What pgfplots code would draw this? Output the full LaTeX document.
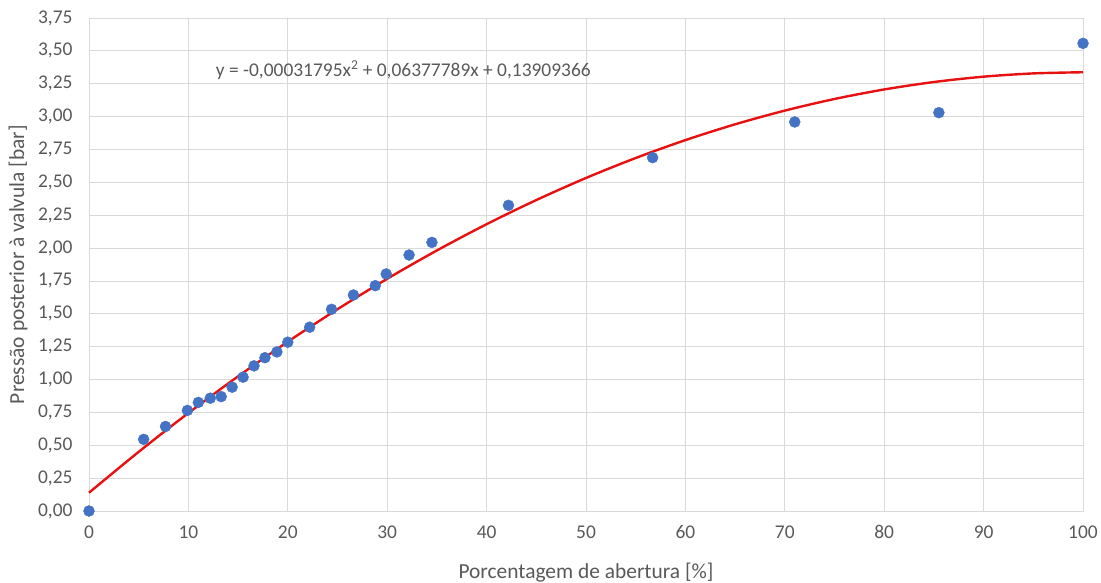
\documentclass[border=0pt]{standalone}
\usepackage{fontspec}
\setmainfont{Carlito}
\usepackage{pgfplots}
\pgfplotsset{compat=1.18}
\definecolor{txtgrey}{HTML}{595959}
\definecolor{gridgrey}{HTML}{D9D9D9}
\definecolor{axisgrey}{HTML}{BFBFBF}
\definecolor{ptblue}{HTML}{4472C4}
\definecolor{fitred}{HTML}{E81010}
\begin{document}
\begin{tikzpicture}[x=1bp,y=1bp]
\begin{axis}[
  at={(0bp,0bp)}, anchor=south west,
  scale only axis, width=994bp, height=493bp,
  xmin=0, xmax=100, ymin=0, ymax=3.75,
  xtick={0,10,...,100},
  ytick={0,0.25,...,3.75},
  grid=major,
  major grid style={gridgrey, line width=0.8bp},
  axis line style={gridgrey, line width=0.8bp},
  tick style={draw=none},
  every tick label/.append style={text=txtgrey, font=\fontsize{19.5}{23}\selectfont},
  /pgf/number format/assume math mode=true,
  yticklabel style={/pgf/number format/.cd, fixed, fixed zerofill, precision=2, use comma},
  xticklabel style={/pgf/number format/.cd, fixed, precision=0},
  xticklabel shift=11bp,
  yticklabel shift=13bp,
  clip=false,
]
\addplot[fitred, line width=2.4bp, smooth] coordinates {
(0,0.13909) (5,0.45003) (10,0.74508) (15,1.02422) (20,1.28747) (25,1.53482)
(30,1.76628) (35,1.98183) (40,2.18149) (45,2.36525) (50,2.53311) (55,2.68507)
(60,2.82114) (65,2.94132) (70,3.04559) (75,3.13397) (80,3.20644) (85,3.26303)
(90,3.30371) (95,3.32849) (100,3.33738)};
\addplot[only marks, mark=*, mark size=5.5bp, mark options={fill=ptblue, draw=ptblue}] coordinates {
(0,0.00) (5.5,0.545) (7.7,0.643) (9.9,0.765) (11.0,0.826) (12.2,0.858)
(13.3,0.870) (14.4,0.942) (15.5,1.018) (16.6,1.104) (17.7,1.166) (18.9,1.210)
(20.0,1.284) (22.2,1.398) (24.4,1.534) (26.6,1.643) (28.8,1.714) (29.9,1.803)
(32.2,1.947) (34.5,2.043) (42.2,2.325) (56.7,2.688) (71.0,2.959) (85.5,3.030)
(100,3.557)};
\node[anchor=west, text=txtgrey, font=\fontsize{19.5}{23}\selectfont, inner sep=0pt]
  at (axis cs:12.75,3.355) {y = -0,00031795x\textsuperscript{2} + 0,06377789x + 0,13909366};
\end{axis}
\node[text=txtgrey, font=\fontsize{21.5}{25}\selectfont] at (497bp,-62bp) {Porcentagem de abertura [\%]};
\node[text=txtgrey, font=\fontsize{21.5}{25}\selectfont, rotate=90] at (-71bp,246.5bp) {Pressão posterior à valvula [bar]};
\pgfresetboundingbox
\path[use as bounding box] (-89bp,-72bp) rectangle (1012bp,511bp);
\end{tikzpicture}
\end{document}
